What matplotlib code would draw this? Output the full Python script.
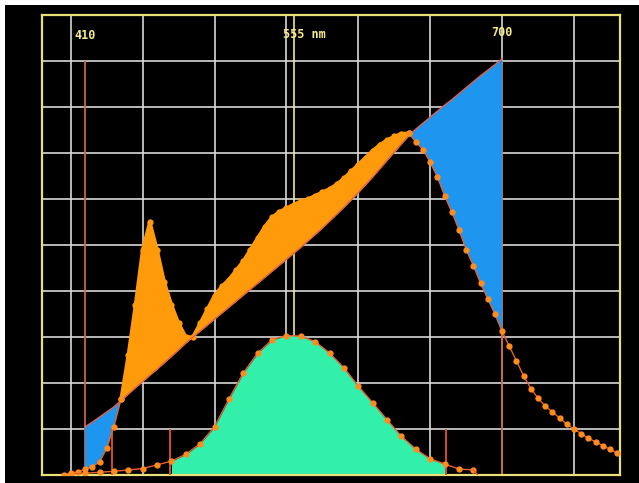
import numpy as np
import matplotlib
matplotlib.use('Agg')
import matplotlib.pyplot as plt
from matplotlib.patches import Rectangle

# measured spectrum, 5 nm steps
wl = np.arange(395, 781, 5)
measured = [0.000, 0.004, 0.007, 0.012, 0.018, 0.028, 0.058, 0.105, 0.165, 0.260,
            0.370, 0.490, 0.550, 0.490, 0.420, 0.370, 0.330, 0.300, 0.300, 0.330,
            0.360, 0.390, 0.410, 0.425, 0.445, 0.465, 0.490, 0.515, 0.540, 0.560,
            0.572, 0.580, 0.588, 0.595, 0.600, 0.607, 0.615, 0.622, 0.632, 0.645,
            0.660, 0.675, 0.690, 0.705, 0.718, 0.728, 0.736, 0.742, 0.743, 0.724,
            0.707, 0.680, 0.648, 0.607, 0.572, 0.533, 0.490, 0.455, 0.417, 0.383,
            0.350, 0.312, 0.280, 0.248, 0.215, 0.188, 0.167, 0.150, 0.137, 0.124,
            0.110, 0.100, 0.090, 0.080, 0.072, 0.064, 0.056, 0.048]

# reference line 410..700 nm, 5 nm steps
ref_wl = np.arange(410, 701, 5)
reference = [0.105, 0.115, 0.126, 0.137, 0.148, 0.162, 0.176, 0.190, 0.203, 0.217,
             0.230, 0.244, 0.258, 0.272, 0.287, 0.300, 0.313, 0.326, 0.339, 0.352,
             0.365, 0.378, 0.391, 0.404, 0.417, 0.430, 0.443, 0.456, 0.469, 0.482,
             0.495, 0.509, 0.523, 0.537, 0.552, 0.567, 0.582, 0.598, 0.614, 0.631,
             0.648, 0.666, 0.684, 0.702, 0.720, 0.737, 0.752, 0.765, 0.778, 0.791,
             0.804, 0.816, 0.829, 0.842, 0.855, 0.868, 0.880, 0.892, 0.905]

# luminosity-like curve, 10 nm steps
lum_wl = [400, 410, 420, 430, 440, 450, 460, 470, 480, 490, 500, 510, 520, 530, 540,
          550, 560, 570, 580, 590, 600, 610, 620, 630, 640, 650, 660, 670, 680, 683]
lum = [0.002, 0.004, 0.006, 0.008, 0.011, 0.014, 0.022, 0.030, 0.045, 0.068, 0.105,
       0.165, 0.222, 0.265, 0.294, 0.303, 0.302, 0.290, 0.265, 0.233, 0.193, 0.157,
       0.120, 0.084, 0.056, 0.035, 0.024, 0.013, 0.011, 0.0]

markers_short = [429, 469, 661]
markers_long = [410, 700]

ORANGE = '#ff9a0a'
DOT = '#ff8c1e'
LINE = '#e8602a'

fig = plt.figure(figsize=(6.39, 4.83), dpi=100)
fig.patch.set_facecolor('white')
fig.patches.append(Rectangle((5 / 639, 0), 1, 1 - 5 / 483, transform=fig.transFigure,
                             facecolor='black', edgecolor='none', zorder=-10))

ax = fig.add_axes([42 / 639, 1 - 475 / 483, 578 / 639, 460 / 483])
ax.set_facecolor('black')
ax.set_xlim(380, 782)
ax.set_ylim(0, 1)
ax.set_xticks(np.arange(400, 751, 50))
ax.set_yticks(np.arange(0, 1.01, 0.1))
ax.grid(True, color='#d8d8d8', lw=1.2, zorder=0.5)
ax.set_axisbelow(True)
ax.tick_params(length=0, labelbottom=False, labelleft=False)
for s in ax.spines.values():
    s.set_color('#e8df78')
    s.set_linewidth(1.6)

wl_arr = np.array(wl)
meas = np.array(measured)
sel = (wl_arr >= 410) & (wl_arr <= 700)
m = meas[sel]
r = np.array(reference)
ax.fill_between(ref_wl, r, m, where=m >= r, interpolate=True, color=ORANGE, lw=0, zorder=2)
ax.fill_between(ref_wl, r, m, where=m <= r, interpolate=True, color='#1e96f0', lw=0, zorder=2)
ax.plot(ref_wl, r, color='#e06050', lw=1, zorder=2.5)

lw_arr = np.array(lum_wl)
lum_arr = np.array(lum)
ax.fill_between(lw_arr, 0, lum_arr, where=(lw_arr >= 470) & (lw_arr <= 660),
                color='#32f0aa', lw=0, zorder=2)

# marker lines
ax.axvline(555, color='#f0e68c', lw=1.2, zorder=1)
ax.vlines(markers_long, 0, 0.9, color='#c8643a', lw=1.3, zorder=1.5)
ax.vlines(markers_short, 0, 0.1, color='#e8502a', lw=1.3, zorder=2.6)

# measured curve: dotted outside the orange band, soft orange edge inside it
inner = (wl_arr >= 435) & (wl_arr <= 635)
left = wl_arr <= 435
right = wl_arr >= 635
ax.plot(wl_arr[inner], meas[inner], color=ORANGE, lw=2.5, marker='o', ms=3.5,
        mfc=ORANGE, mec=ORANGE, zorder=2.2)
for part in (left, right):
    ax.plot(wl_arr[part], meas[part], color=LINE, lw=1, marker='o', ms=3.5,
            mfc=DOT, mec=DOT, zorder=3)
ax.plot(lum_wl[:-1], lum[:-1], color=LINE, lw=1, marker='o', ms=3.5,
        mfc=DOT, mec=DOT, zorder=3)
ax.plot(lum_wl[-2:], lum[-2:], color=LINE, lw=1, zorder=3)

txt = dict(color='#f5e98a', fontsize=8.5, family='DejaVu Sans Mono', weight='bold', va='center')
ax.text(410, 0.955, '410', ha='center', **txt)
ax.text(547.5, 0.958, '555 nm', ha='left', **txt)
ax.text(700, 0.962, '700', ha='center', **txt)

fig.savefig('out.png', dpi=100)
